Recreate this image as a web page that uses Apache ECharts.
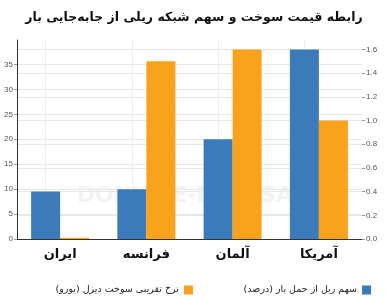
<!DOCTYPE html>
<html>
<head>
<meta charset="utf-8">
<script src="https://cdn.jsdelivr.net/npm/echarts@6/dist/echarts.min.js"></script>
<style>
  html, body { margin: 0; padding: 0; background: #fff; }
  #chart { width: 388px; height: 300px; }
</style>
</head>
<body>
<div id="chart"></div>
<script>
const categories = ['ایران', 'فرانسه', 'آلمان', 'آمریکا'];
const railShare = [9.5, 10, 20, 38];        // سهم ریل از حمل بار (درصد)
const dieselPrice = [0.01, 1.5, 1.6, 1.0];  // نرخ تقریبی سوخت دیزل (یورو)
const leftTicks = [0, 5, 10, 15, 20, 25, 30, 35];
const rightTicks = [0, 0.2, 0.4, 0.6, 0.8, 1.0, 1.2, 1.4, 1.6];

const railName = 'سهم ریل از حمل بار (درصد)';
const dieselName = 'نرخ تقریبی سوخت دیزل (یورو)';
const faFont = 'DejaVu Sans';

const chart = echarts.init(document.getElementById('chart'), null, { renderer: 'canvas' });

const gridColor = '#e8e8e8';

chart.setOption({
  animation: false,
  title: {
    text: 'رابطه قیمت سوخت و سهم شبکه ریلی از جابه‌جایی بار',
    left: 'center',
    top: 6,
    textStyle: { fontFamily: faFont, fontSize: 12.5, fontWeight: 'bold', color: '#111' }
  },
  graphic: [
    {
      type: 'text', left: 'center', top: 185, z: -1, silent: true,
      style: { text: 'DONYA-E-EQTESAD', fill: '#f3f3f3', font: 'bold 22px "DejaVu Sans"' }
    }
  ],
  legend: [
    {
      data: [railName], right: 12, top: 280, align: 'right',
      itemWidth: 9, itemHeight: 9, icon: 'rect',
      textStyle: { fontFamily: faFont, fontSize: 9.5, color: '#222' }
    },
    {
      data: [dieselName], right: 190, top: 280, align: 'right',
      itemWidth: 9, itemHeight: 9, icon: 'rect',
      textStyle: { fontFamily: faFont, fontSize: 9.5, color: '#222' }
    }
  ],
  grid: { left: 17, right: 26, top: 40, bottom: 61 },
  xAxis: {
    type: 'category',
    data: categories,
    axisLine: { lineStyle: { color: '#333' } },
    axisTick: { show: false },
    axisLabel: { fontFamily: faFont, fontSize: 13, fontWeight: 'bold', color: '#111', margin: 9 },
    splitLine: { show: false }
  },
  yAxis: [
    {
      type: 'value', min: 0, max: 39.9, interval: 5,
      axisLine: { show: true, lineStyle: { color: '#333' } },
      axisTick: { show: true, length: 3, lineStyle: { color: '#999' } },
      axisLabel: {
        fontSize: 8, color: '#555', margin: 4, showMaxLabel: false,
        formatter: v => leftTicks.includes(v) ? String(v) : ''
      },
      splitLine: { show: true, showMaxLine: false, lineStyle: { color: gridColor } }
    },
    {
      type: 'value', min: 0, max: 1.68, interval: 0.2,
      axisLine: { show: false },
      axisTick: { show: true, length: 3, lineStyle: { color: '#999' } },
      axisLabel: {
        fontSize: 8, color: '#555', margin: 4, showMaxLabel: false,
        formatter: v => rightTicks.some(t => Math.abs(t - v) < 1e-6) ? v.toFixed(1) : ''
      },
      splitLine: { show: true, showMaxLine: false, lineStyle: { color: gridColor } }
    }
  ],
  series: [
    {
      name: railName, type: 'bar', yAxisIndex: 0,
      data: railShare, barWidth: 29, barGap: '0%',
      itemStyle: { color: '#3b7bb9' },
      // vertical grid lines at category centres, as in the reference
      markLine: {
        silent: true, symbol: 'none', z: 0,
        label: { show: false },
        lineStyle: { color: '#eeeeee', type: 'solid', width: 1 },
        data: categories.map(c => ({ xAxis: c }))
      }
    },
    {
      name: dieselName, type: 'bar', yAxisIndex: 1,
      data: dieselPrice, barWidth: 29,
      itemStyle: { color: '#f9a21b' }
    }
  ]
});
</script>
</body>
</html>
